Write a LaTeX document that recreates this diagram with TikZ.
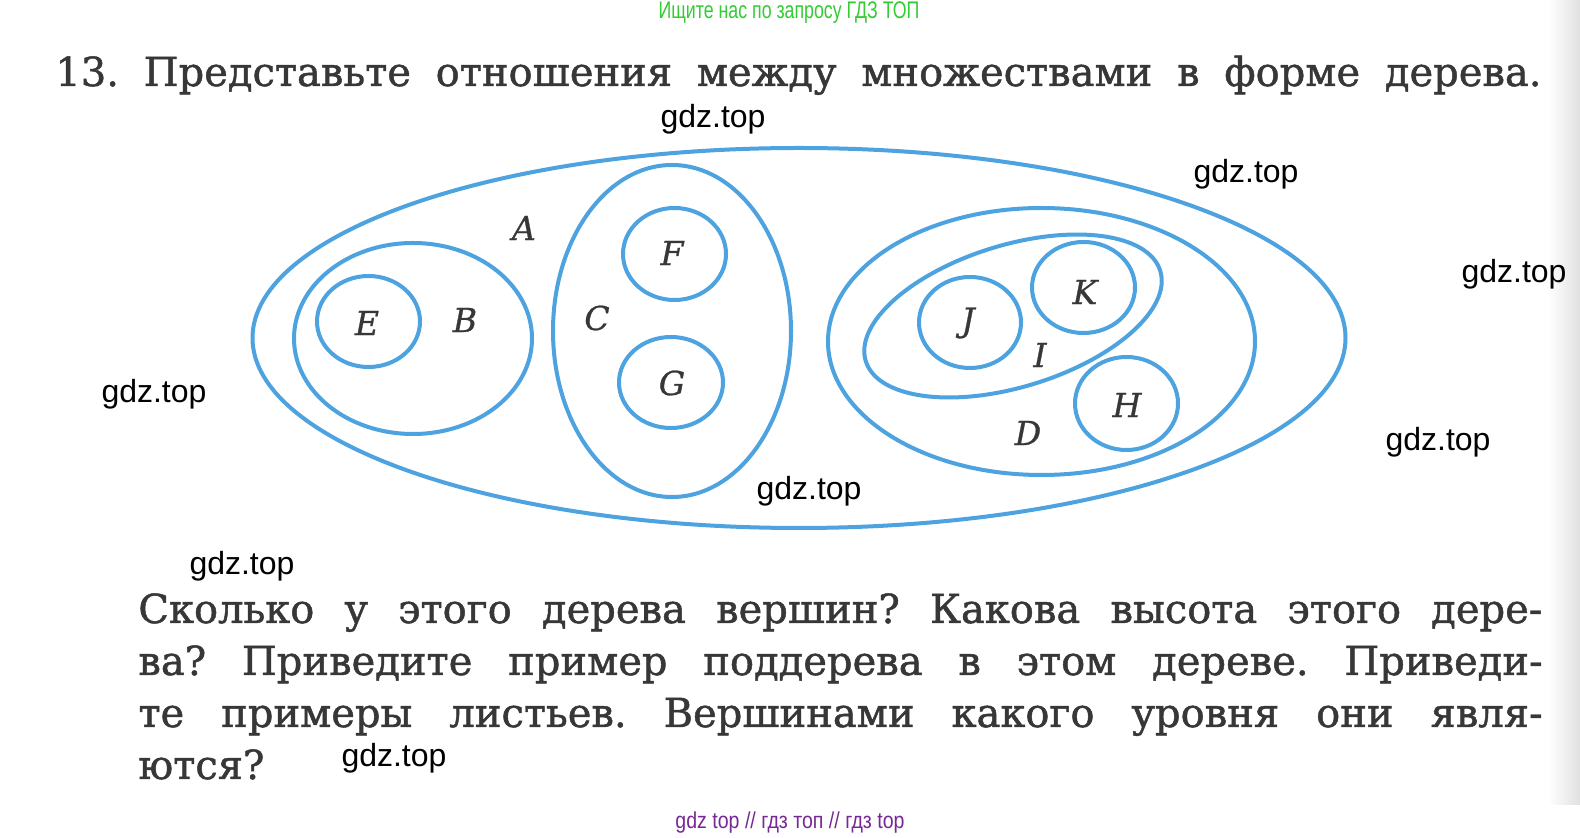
\documentclass[tikz,border=0pt]{standalone}
\usepackage{fontspec}
\setmainfont[FakeBold=1.2]{DejaVu Serif}
\newfontfamily\lblfont[FakeBold=0.8]{DejaVu Serif}
\newfontfamily\wmfont{Liberation Sans}
\usetikzlibrary{shapes.geometric}
\definecolor{setblue}{RGB}{77,162,224}
\definecolor{inkgray}{RGB}{55,55,55}
\definecolor{hdrgreen}{RGB}{51,204,51}
\definecolor{ftrpurple}{RGB}{120,40,150}
\tikzset{
  setshape/.style={draw=setblue, line width=2pt, ellipse, inner sep=0pt, outer sep=0pt},
  setlbl/.style={text=inkgray, font=\lblfont\itshape\fontsize{16.5}{18}\selectfont, inner sep=0pt},
  bodytxt/.style={text=inkgray, font=\fontsize{20}{24}\selectfont, inner sep=0pt, anchor=base west},
  wmark/.style={font=\wmfont\fontsize{16}{18}\selectfont, text=black, inner sep=0pt}
}
\begin{document}
\frenchspacing
\begin{tikzpicture}[x=0.5pt,y=-0.5pt]
\useasboundingbox (0,0) rectangle (1580,838);
\fill[white] (0,0) rectangle (1580,838);
% page edge shading
\shade[left color=white, right color=black!12] (1548,0) rectangle (1580,805);
% header / footer
\node[text=hdrgreen, font=\wmfont\fontsize{12}{13}\selectfont, xscale=0.74, inner sep=0pt] (hdr) at (789,13) {Ищите нас по запросу ГДЗ ТОП};
\node[text=ftrpurple, font=\wmfont\fontsize{11.5}{13}\selectfont, xscale=0.85, inner sep=0pt] (ftr) at (790,823) {gdz top // гдз топ // гдз top};
% title
\node[bodytxt] (title) at (55,86) {\makebox[743pt][s]{13. Представьте отношения между множествами в форме дерева.}};
% sets
\node[setshape, minimum width=546.5pt, minimum height=190pt] (A) at (799,338) {};
\node[setshape, minimum width=119pt, minimum height=95.5pt] (B) at (413,338.5) {};
\node[setshape, minimum width=51.5pt, minimum height=45.5pt] (E) at (368.5,321.5) {};
\node[setshape, minimum width=119pt, minimum height=166pt] (C) at (672,331) {};
\node[setshape, minimum width=51.5pt, minimum height=46pt] (F) at (674.5,254) {};
\node[setshape, minimum width=52pt, minimum height=45.5pt] (G) at (671,382.5) {};
\node[setshape, minimum width=213.5pt, minimum height=133.5pt] (D) at (1041.5,341.5) {};
\node[setshape, minimum width=154pt, minimum height=71pt, rotate=17] (I) at (1013,316) {};
\node[setshape, minimum width=51pt, minimum height=45.5pt] (J) at (970,322.5) {};
\node[setshape, minimum width=51.5pt, minimum height=45.5pt] (K) at (1083.5,287.5) {};
\node[setshape, minimum width=51.5pt, minimum height=46.5pt] (H) at (1126.5,403.5) {};
% labels
\node[setlbl] (lA) at (524,228) {A};
\node[setlbl] (lB) at (465,320) {B};
\node[setlbl] (lE) at (367,323) {E};
\node[setlbl] (lC) at (597,318) {C};
\node[setlbl] (lF) at (672,253) {F};
\node[setlbl] (lG) at (672,383) {G};
\node[setlbl] (lJ) at (968,323) {J};
\node[setlbl] (lK) at (1085,292) {K};
\node[setlbl] (lI) at (1040,355) {I};
\node[setlbl] (lH) at (1127,405) {H};
\node[setlbl] (lD) at (1028,433) {D};
% body text
\node[bodytxt] (l1) at (138,623) {\makebox[702pt][s]{Сколько у этого дерева вершин? Какова высота этого дере-}};
\node[bodytxt] (l2) at (138,675) {\makebox[702pt][s]{ва? Приведите пример поддерева в этом дереве. Приведи-}};
\node[bodytxt] (l3) at (138,727) {\makebox[702pt][s]{те примеры листьев. Вершинами какого уровня они явля-}};
\node[bodytxt] (l4) at (138,779) {ются?};
% watermarks
\node[wmark] (w1) at (713,119) {gdz.top};
\node[wmark] (w2) at (1246,174) {gdz.top};
\node[wmark] (w3) at (1514,274) {gdz.top};
\node[wmark] (w4) at (154,394) {gdz.top};
\node[wmark] (w5) at (1438,442) {gdz.top};
\node[wmark] (w6) at (809,491) {gdz.top};
\node[wmark] (w7) at (242,566) {gdz.top};
\node[wmark] (w8) at (394,758) {gdz.top};
\end{tikzpicture}
\end{document}
